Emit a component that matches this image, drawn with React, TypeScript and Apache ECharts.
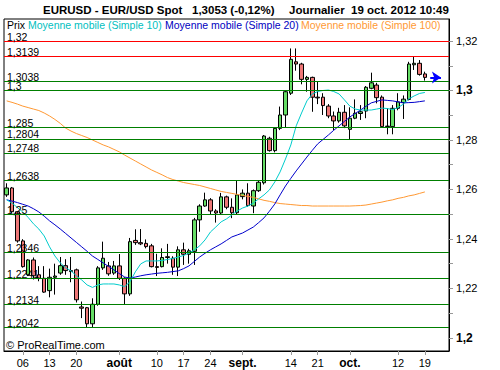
import React, { useEffect, useRef } from "react";
import * as echarts from "echarts";

const dates = [
  "2012-07-03","2012-07-04","2012-07-05","2012-07-06","2012-07-09","2012-07-10","2012-07-11","2012-07-12","2012-07-13",
  "2012-07-16","2012-07-17","2012-07-18","2012-07-19","2012-07-20","2012-07-23","2012-07-24","2012-07-25","2012-07-26","2012-07-27",
  "2012-07-30","2012-07-31","2012-08-01","2012-08-02","2012-08-03","2012-08-06","2012-08-07","2012-08-08","2012-08-09","2012-08-10",
  "2012-08-13","2012-08-14","2012-08-15","2012-08-16","2012-08-17","2012-08-20","2012-08-21","2012-08-22","2012-08-23","2012-08-24",
  "2012-08-27","2012-08-28","2012-08-29","2012-08-30","2012-08-31","2012-09-03","2012-09-04","2012-09-05","2012-09-06","2012-09-07",
  "2012-09-10","2012-09-11","2012-09-12","2012-09-13","2012-09-14","2012-09-17","2012-09-18","2012-09-19","2012-09-20","2012-09-21",
  "2012-09-24","2012-09-25","2012-09-26","2012-09-27","2012-09-28","2012-10-01","2012-10-02","2012-10-03","2012-10-04","2012-10-05",
  "2012-10-08","2012-10-09","2012-10-10","2012-10-11","2012-10-12","2012-10-15","2012-10-16","2012-10-17","2012-10-18","2012-10-19",
];
const padCategories = ["p1", "p2", "p3", "p4"];

const opens = [1.2578,1.2606,1.2510,1.2392,1.2255,1.2315,1.2255,1.2241,1.2191,1.2245,
  1.2262,1.2292,1.2272,1.2275,1.2125,1.2122,1.2057,1.2136,1.2283,1.2291,
  1.2262,1.2291,1.2241,1.2178,1.2394,1.2385,1.2382,1.2372,1.2288,1.2288,
  1.2325,1.2322,1.2286,1.2356,1.2338,1.2350,1.2477,1.2533,1.2558,1.2513,
  1.2505,1.2570,1.2528,1.2506,1.2571,1.2585,1.2533,1.2595,1.2627,1.2807,
  1.2757,1.2847,1.2901,1.2989,1.3116,1.3107,1.3045,1.3053,1.2973,1.2973,
  1.2937,1.2897,1.2877,1.2912,1.2843,1.2888,1.2907,1.2917,1.3009,1.3022,
  1.2973,1.2854,1.2854,1.2928,1.2951,1.2964,1.3104,1.3110,1.3067];
const closes = [1.2606,1.2510,1.2392,1.2288,1.2315,1.2251,1.2241,1.2185,1.2245,1.2250,
  1.2292,1.2272,1.2268,1.2154,1.2120,1.2057,1.2136,1.2283,1.2322,1.2259,
  1.2291,1.2241,1.2178,1.2389,1.2385,1.2380,1.2369,1.2288,1.2285,1.2325,
  1.2328,1.2286,1.2356,1.2338,1.2352,1.2477,1.2533,1.2558,1.2513,1.2505,
  1.2570,1.2528,1.2506,1.2578,1.2585,1.2535,1.2595,1.2629,1.2816,1.2757,
  1.2847,1.2901,1.2995,1.3126,1.3107,1.3045,1.3053,1.2973,1.2970,1.2939,
  1.2897,1.2877,1.2912,1.2857,1.2888,1.2908,1.2914,1.3013,1.3031,1.2971,
  1.2854,1.2856,1.2928,1.2954,1.2965,1.3107,1.3110,1.3065,1.3053];
const highs = [1.2625,1.2610,1.2512,1.2399,1.2318,1.2325,1.2290,1.2290,1.2280,1.2300,
  1.2327,1.2318,1.2327,1.2280,1.2147,1.2125,1.2160,1.2290,1.2389,1.2307,
  1.2311,1.2339,1.2245,1.2404,1.2439,1.2440,1.2398,1.2380,1.2340,1.2362,
  1.2380,1.2330,1.2370,1.2385,1.2360,1.2485,1.2540,1.2587,1.2565,1.2520,
  1.2586,1.2575,1.2564,1.2636,1.2600,1.2625,1.2600,1.2635,1.2820,1.2813,
  1.2852,1.2935,1.3002,1.3170,1.3170,1.3112,1.3059,1.3056,1.3037,1.2989,
  1.2945,1.2915,1.2930,1.2941,1.2932,1.2964,1.2941,1.3018,1.3072,1.3031,
  1.2980,1.2928,1.2941,1.2989,1.2980,1.3116,1.3137,1.3123,1.3076];
const lows = [1.2570,1.2505,1.2385,1.2284,1.2250,1.2236,1.2229,1.2182,1.2164,1.2175,
  1.2255,1.2255,1.2225,1.2143,1.2080,1.2040,1.2044,1.2130,1.2275,1.2251,
  1.2255,1.2234,1.2137,1.2170,1.2376,1.2375,1.2362,1.2285,1.2250,1.2285,
  1.2300,1.2255,1.2250,1.2295,1.2300,1.2295,1.2429,1.2530,1.2497,1.2466,
  1.2500,1.2520,1.2484,1.2497,1.2560,1.2530,1.2504,1.2590,1.2620,1.2753,
  1.2750,1.2840,1.2851,1.2982,1.3080,1.3025,1.2995,1.2914,1.2945,1.2901,
  1.2888,1.2840,1.2870,1.2848,1.2804,1.2884,1.2881,1.2888,1.3005,1.2948,
  1.2850,1.2823,1.2823,1.2920,1.2885,1.2960,1.3083,1.3060,1.3040];

const ma10 = [1.2558,1.2545,1.2527,1.2509,1.2487,1.2461,1.2440,1.2412,1.2368,1.2331,
  1.2303,1.2283,1.2271,1.2251,1.2234,1.2214,1.2204,1.2214,1.2218,1.2218,
  1.2218,1.2214,1.2207,1.2227,1.2267,1.2299,1.2311,1.2311,1.2311,1.2313,
  1.2317,1.2321,1.2327,1.2333,1.2343,1.2356,1.2372,1.2396,1.2428,1.2448,
  1.2469,1.2481,1.2497,1.2513,1.2525,1.2533,1.2545,1.2562,1.2578,1.2598,
  1.2630,1.2671,1.2723,1.2780,1.2857,1.2909,1.2958,1.2986,1.2996,1.3000,
  1.3002,1.2996,1.2986,1.2962,1.2937,1.2925,1.2921,1.2921,1.2921,1.2925,
  1.2929,1.2927,1.2923,1.2931,1.2945,1.2966,1.2978,1.2988,1.2992];
const ma20 = [1.2558,1.2553,1.2547,1.2540,1.2533,1.2522,1.2509,1.2492,1.2473,1.2457,
  1.2440,1.2422,1.2404,1.2386,1.2368,1.2350,1.2331,1.2317,1.2303,1.2289,
  1.2275,1.2260,1.2246,1.2242,1.2246,1.2251,1.2255,1.2258,1.2261,1.2263,
  1.2265,1.2268,1.2271,1.2280,1.2291,1.2309,1.2327,1.2342,1.2356,1.2368,
  1.2380,1.2394,1.2408,1.2416,1.2424,1.2436,1.2448,1.2466,1.2485,1.2512,
  1.2541,1.2578,1.2614,1.2645,1.2675,1.2703,1.2731,1.2758,1.2784,1.2802,
  1.2820,1.2839,1.2857,1.2875,1.2893,1.2907,1.2921,1.2936,1.2950,1.2956,
  1.2962,1.2960,1.2958,1.2954,1.2950,1.2951,1.2952,1.2955,1.2958];
const ma100 = [1.2958,1.2952,1.2945,1.2937,1.2931,1.2925,1.2919,1.2909,1.2897,1.2883,
  1.2867,1.2848,1.2836,1.2826,1.2818,1.2810,1.2800,1.2790,1.2780,1.2772,
  1.2762,1.2752,1.2739,1.2727,1.2715,1.2703,1.2691,1.2679,1.2669,1.2659,
  1.2648,1.2640,1.2634,1.2628,1.2624,1.2620,1.2616,1.2610,1.2604,1.2598,
  1.2592,1.2588,1.2584,1.2580,1.2576,1.2572,1.2568,1.2562,1.2556,1.2552,
  1.2547,1.2543,1.2541,1.2539,1.2537,1.2535,1.2535,1.2533,1.2533,1.2533,
  1.2533,1.2533,1.2533,1.2533,1.2533,1.2534,1.2535,1.2537,1.2541,1.2545,
  1.2549,1.2554,1.2558,1.2564,1.2568,1.2574,1.2578,1.2584,1.2590];

const levels = [1.32, 1.3139, 1.3038, 1.3, 1.285, 1.2804, 1.2748, 1.2638, 1.25, 1.2346, 1.2241, 1.2134, 1.2042];
const redLevels = [1.32, 1.3139];
const lastPrice = 1.3053;

const yLabelValues = [1.2, 1.22, 1.24, 1.26, 1.28, 1.3, 1.32];
const yTickValues = [1.2, 1.21, 1.22, 1.23, 1.24, 1.25, 1.26, 1.27, 1.28, 1.29, 1.3, 1.31, 1.32];
const boldYLabels = [1.2, 1.3];

const xTickIndexes = [3, 8, 13, 21, 28, 33, 38, 44, 53, 58, 64, 73, 78];
const xTickLabels = ["06", "13", "20", "août", "10", "17", "24", "sept.", "14", "21", "oct.", "12", "19"];
const monthLabels = ["août", "sept.", "oct."];

const FONT = '"Liberation Sans", Arial, sans-serif';
const fmt = (v: number) => String(v).replace(".", ",");

export default function App() {
  const ref = useRef<HTMLDivElement>(null);
  useEffect(() => {
    if (!ref.current) return;
    const chart = echarts.init(ref.current, undefined, { renderer: "svg" });
    const categories = [...dates, ...padCategories];
    const candles = opens.map((o, i) => [o, closes[i], lows[i], highs[i]]);
    const option: any = {
      animation: false,
      backgroundColor: "#fff",
      textStyle: { fontFamily: FONT },
      grid: { left: 4, top: 19, width: 445, height: 332, show: true, borderColor: "#000", borderWidth: 1, backgroundColor: "transparent" },
      xAxis: {
        type: "category",
        data: categories,
        boundaryGap: true,
        axisLine: { show: true, lineStyle: { color: "#000" } },
        axisTick: {
          show: true,
          alignWithLabel: true,
          length: 4,
          lineStyle: { color: "#999" },
          interval: (index: number) => xTickIndexes.indexOf(index) >= 0,
        },
        axisLabel: {
          interval: (index: number) => xTickIndexes.indexOf(index) >= 0,
          margin: 6,
          color: "#000",
          fontSize: 11,
          fontFamily: FONT,
          formatter: (_v: string, index: number) => {
            const k = xTickIndexes.indexOf(index);
            if (k < 0) return "";
            const t = xTickLabels[k];
            return monthLabels.indexOf(t) >= 0 ? `{b|${t}}` : t;
          },
          rich: { b: { fontWeight: "bold", fontSize: 12, fontFamily: FONT, color: "#000" } },
        },
        splitLine: { show: false },
      },
      yAxis: {
        type: "value",
        position: "right",
        min: 1.1947,
        max: 1.3289,
        scale: true,
        axisLine: { show: true, lineStyle: { color: "#000" } },
        axisTick: { show: true, length: 4, lineStyle: { color: "#999" }, customValues: yTickValues },
        axisLabel: {
          customValues: yLabelValues,
          margin: 7,
          color: "#000",
          fontSize: 11,
          fontFamily: FONT,
          formatter: (v: number) => {
            const r = Math.round(v * 100) / 100;
            const s = fmt(r);
            return boldYLabels.indexOf(r) >= 0 ? `{b|${s}}` : s;
          },
          rich: { b: { fontWeight: "bold", fontSize: 12, fontFamily: FONT, color: "#000" } },
        },
        splitLine: { show: false },
      },
      series: [
        {
          type: "line",
          data: [],
          z: 1,
          silent: true,
          markLine: {
            silent: true,
            symbol: "none",
            precision: 4,
            animation: false,
            label: {
              show: true,
              position: "insideStartTop",
              distance: [3, 0],
              color: "#000",
              fontSize: 10.5,
              lineHeight: 9,
              fontFamily: FONT,
              formatter: (p: any) => fmt(p.value),
            },
            data: levels.map((v) => ({
              yAxis: v,
              lineStyle: { color: redLevels.indexOf(v) >= 0 ? "#FF0000" : "#007F00", width: 1, type: "solid" },
            })),
          },
        },
        {
          type: "candlestick",
          data: candles,
          z: 3,
          barWidth: 4,
          itemStyle: {
            color: "#66DD66",
            color0: "#EE7777",
            borderColor: "#000",
            borderColor0: "#000",
            borderColorDoji: "#000",
            borderWidth: 1,
          },
        },
        { type: "line", data: ma100, z: 4, symbol: "none", lineStyle: { color: "#FF9933", width: 1 } },
        { type: "line", data: ma20, z: 4, symbol: "none", lineStyle: { color: "#0000CC", width: 1 } },
        { type: "line", data: ma10, z: 4, symbol: "none", lineStyle: { color: "#00CCCC", width: 1 } },
        {
          type: "line",
          data: [],
          z: 5,
          markLine: {
            silent: true,
            animation: false,
            precision: 4,
            symbol: ["none", "arrow"],
            symbolSize: 9,
            label: { show: false },
            lineStyle: { color: "#0000FF", width: 2, type: "solid" },
            data: [[{ coord: [padCategories[0], lastPrice] }, { coord: [padCategories[2], lastPrice] }]],
          },
        },
      ],
      graphic: [
        { type: "text", x: 43, y: 10, style: { text: "EURUSD - EUR/USD Spot", font: `bold 11.5px ${FONT}`, fill: "#000", verticalAlign: "middle" } },
        { type: "text", x: 192, y: 10, style: { text: "1,3053 (-0,12%)", font: `bold 11.5px ${FONT}`, fill: "#000", verticalAlign: "middle" } },
        { type: "text", x: 289, y: 10, style: { text: "Journalier  19 oct. 2012 10:49", font: `bold 11.5px ${FONT}`, fill: "#000", verticalAlign: "middle" } },
        { type: "text", x: 7, y: 25, style: { text: "Prix", font: `10.5px ${FONT}`, fill: "#000", verticalAlign: "middle" } },
        { type: "text", x: 28, y: 25, style: { text: "Moyenne mobile (Simple 10)", font: `10.5px ${FONT}`, fill: "#00C0C0", verticalAlign: "middle" } },
        { type: "text", x: 165, y: 25, style: { text: "Moyenne mobile (Simple 20)", font: `10.5px ${FONT}`, fill: "#0000C0", verticalAlign: "middle" } },
        { type: "text", x: 301, y: 25, style: { text: "Moyenne mobile (Simple 100)", font: `10.5px ${FONT}`, fill: "#FF9933", verticalAlign: "middle" } },
        { type: "text", x: 6, y: 345, style: { text: "© ProRealTime.com", font: `11px ${FONT}`, fill: "#000", verticalAlign: "middle" } },
      ],
    };
    chart.setOption(option);
    return () => chart.dispose();
  }, []);
  return <div ref={ref} style={{ position: "absolute", left: 0, top: 0, width: 500, height: 370, background: "#fff" }} />;
}
